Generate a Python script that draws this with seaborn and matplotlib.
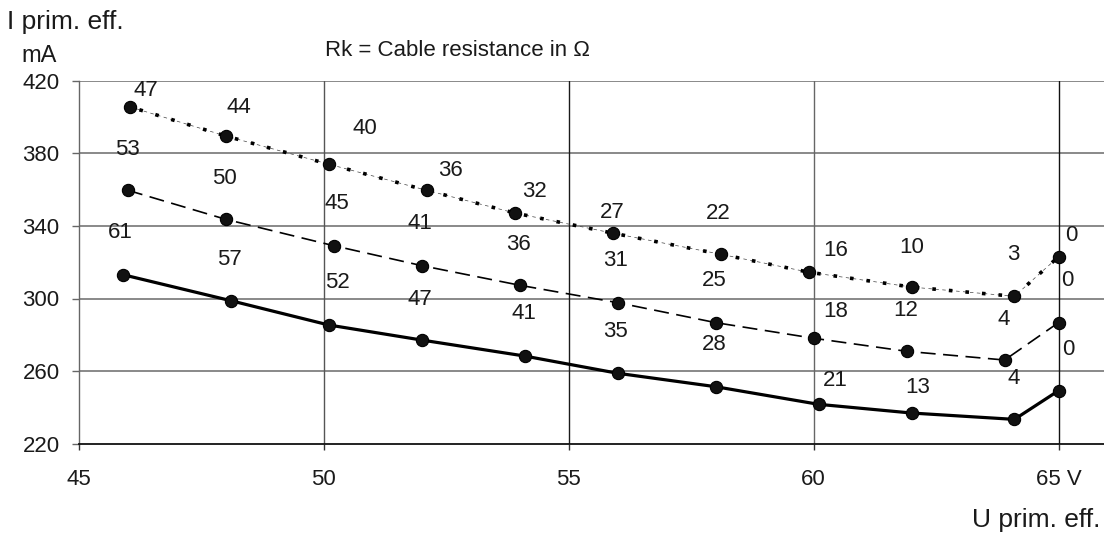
import matplotlib
matplotlib.use("Agg")
import matplotlib.pyplot as plt
import seaborn as sns
import pandas as pd

# ---- data ----
# U prim. eff. (V) and I prim. eff. (mA) for three curves
x_top = [46.05, 48.0, 50.1, 52.1, 53.9, 55.9, 58.1, 59.9, 62.0, 64.1, 65.0]
y_top = [405.5, 389.5, 374.0, 359.6, 347.1, 336.0, 324.4, 314.5, 306.3, 301.2, 323.0]
rk_top = ["47", "44", "40", "36", "32", "27", "22", "16", "10", "3", "0"]

x_mid = [46.0, 48.0, 50.2, 52.0, 54.0, 56.0, 58.0, 60.0, 61.9, 63.9, 65.0]
y_mid = [359.6, 343.6, 329.1, 318.1, 307.3, 297.7, 286.7, 278.1, 270.9, 266.1, 286.7]
rk_mid = ["53", "50", "45", "41", "36", "31", "25", "18", "12", "4", "0"]

x_low = [45.9, 48.1, 50.1, 52.0, 54.1, 56.0, 58.0, 60.1, 62.0, 64.1, 65.0]
y_low = [313.1, 298.8, 285.4, 277.1, 268.3, 258.8, 251.4, 241.7, 236.9, 233.4, 249.2]
rk_low = ["61", "57", "52", "47", "41", "35", "28", "21", "13", "4", "0"]

x_ticks = [45, 50, 55, 60, 65]
x_tick_labels = ["45", "50", "55", "60", "65 V"]
y_ticks = [220, 260, 300, 340, 380, 420]

# label offsets in pixels (style only)
off_top = [(15, 17), (13, 29), (36, 36), (24, 20), (20, 22), (-1, 21), (-2, 41),
           (27, 22), (0, 40), (-1, 42), (13, 21)]
off_mid = [(-1, 41), (-1, 41), (3, 42), (-2, 42), (-1, 41), (-2, 42), (-1, 42),
           (22, 27), (-1, 41), (-1, 41), (9, 42)]
off_low = [(-3, 42), (-1, 41), (9, 42), (-2, 41), (-1, 43), (-2, 42), (-1, 42),
           (17, 24), (6, 26), (-1, 41), (10, 41)]

sns.set_theme(style="white")
plt.rcParams["font.family"] = ["Liberation Sans", "DejaVu Sans"]

FS = 16
W, H = 1104, 536
fig = plt.figure(figsize=(W / 100, H / 100), dpi=100)
ax_l, ax_r, ax_t, ax_b = 79, 1104, 80.7, 443.7
ax = fig.add_axes([ax_l / W, (H - ax_b) / H, (ax_r - ax_l) / W, (ax_b - ax_t) / H])

px_per_v = (1058.5 - 79) / 20.0
ax.set_xlim(45, 45 + (ax_r - ax_l) / px_per_v)
ax.set_ylim(220, 420)

# grid
for yv in y_ticks[1:]:
    ax.axhline(yv, color="#6a6a6a", lw=1.1, zorder=1)
for xv, c in zip(x_ticks[1:], ["#555555", "#1a1a1a", "#666666", "#111111"]):
    ax.axvline(xv, color=c, lw=1.0, zorder=1)

df_top = pd.DataFrame({"U": x_top, "I": y_top})
df_mid = pd.DataFrame({"U": x_mid, "I": y_mid})
df_low = pd.DataFrame({"U": x_low, "I": y_low})

# top curve: thin dashes with square dots
sns.lineplot(data=df_top, x="U", y="I", ax=ax, sort=False, color="#444444",
             lw=0.5, linestyle=(0, (5, 5)), zorder=2)
sns.lineplot(data=df_top, x="U", y="I", ax=ax, sort=False, color="black",
             lw=2.6, linestyle=(2, (1.0, 3.6)), dash_capstyle="butt", zorder=2)
# middle curve: dashed
sns.lineplot(data=df_mid, x="U", y="I", ax=ax, sort=False, color="black",
             lw=1.2, linestyle=(0, (9, 4.5)), zorder=2)
# bottom curve: solid
sns.lineplot(data=df_low, x="U", y="I", ax=ax, sort=False, color="black",
             lw=2.3, zorder=2)

for df in (df_top, df_mid, df_low):
    sns.scatterplot(data=df, x="U", y="I", ax=ax, s=78, color="#111111",
                    edgecolor="black", linewidth=0.8, zorder=4, legend=False)

for xs, ys, labs, offs in ((x_top, y_top, rk_top, off_top),
                           (x_mid, y_mid, rk_mid, off_mid),
                           (x_low, y_low, rk_low, off_low)):
    for xv, yv, lab, (dx, dy) in zip(xs, ys, labs, offs):
        ax.annotate(lab, (xv, yv), xytext=(dx, dy), textcoords="offset pixels",
                    ha="center", va="center", fontsize=FS, color="#1a1a1a",
                    zorder=5)

# axes styling
for s in ("top", "right"):
    ax.spines[s].set_visible(False)
ax.spines["left"].set_color("#666666")
ax.spines["left"].set_linewidth(1.0)
ax.spines["bottom"].set_color("#111111")
ax.spines["bottom"].set_linewidth(1.3)

ax.set_xticks(x_ticks)
ax.set_xticklabels(x_tick_labels)
ax.set_yticks(y_ticks)
ax.tick_params(axis="x", bottom=True, length=4, width=1, color="#333333",
               pad=14, labelsize=FS, labelcolor="#1a1a1a")
ax.tick_params(axis="y", left=True, length=5, width=1, color="#666666",
               pad=9, labelsize=FS, labelcolor="#1a1a1a")
ax.set_xlabel("")
ax.set_ylabel("")

def ftxt(px, py, s, fs, ha="left"):
    fig.text(px / W, 1 - py / H, s, ha=ha, va="center", fontsize=fs, color="#1a1a1a")

ftxt(7, 22, "I prim. eff.", 19)
ftxt(21, 56.5, "mA", 17)
ftxt(325, 50, "Rk = Cable resistance in Ω", 16)
ftxt(1100, 520, "U prim. eff.", 19, ha="right")

fig.savefig("out.png", dpi=100)
